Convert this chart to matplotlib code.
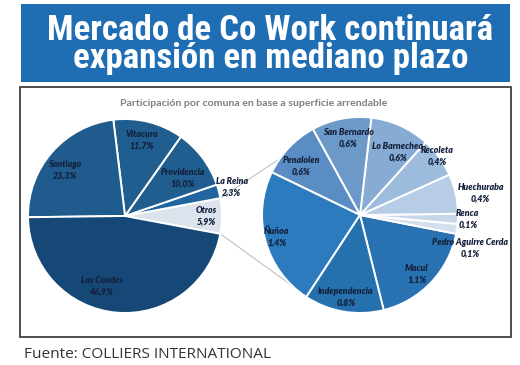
import numpy as np
import matplotlib
matplotlib.use("Agg")
import matplotlib.pyplot as plt
from matplotlib.patches import Rectangle

# ---------------- data ----------------
title_lines = ["Mercado de Co Work continuará", "expansión en mediano plazo"]
subtitle = "Participación por comuna en base a superficie arrendable"
source = "Fuente: COLLIERS INTERNATIONAL"

left_labels = ["Otros", "La Reina", "Providencia", "Vitacura", "Santiago", "Las Condes"]
left_values = [5.9, 2.3, 10.0, 11.7, 23.3, 46.9]

right_labels = ["Macul", "Pedro Aguirre Cerda", "Renca", "Huechuraba", "Recoleta",
                "Lo Barnechea", "San Bernardo", "Penalolen", "Ñuñoa", "Independencia"]
right_values = [1.1, 0.1, 0.1, 0.4, 0.4, 0.6, 0.6, 0.6, 1.4, 0.8]

# ---------------- styles ----------------
left_colors = ["#DCE3EC", "#2065A0", "#1F5E8F", "#1F5E8F", "#1F5C8D", "#164877"]
right_colors = ["#2872B1", "#D3E0EE", "#C6D7EA", "#B7CDE6", "#9EBDDE",
                "#88ABD4", "#6D99C9", "#5A8DC3", "#2B7BBE", "#2471AE"]
# label placement: radial fraction of radius, angle offset from wedge middle (deg)
left_lab_r = [0.84, 1.14, 0.71, 0.80, 0.78, 0.76]
left_lab_da = [0, 0.5, -3.7, 1.7, 3.7, -13.4]
right_lab_r = [0.83, 1.17, 1.10, 1.25, 0.99, 0.75, 0.79, 0.78, 0.88, 0.85]
right_lab_da = [-2.6, -8.6, 0.1, -2.2, 1.5, -6.7, -2.4, 3.8, -0.7, -0.1]

W, H = 520, 365
fig = plt.figure(figsize=(W / 100, H / 100), dpi=100)
ax = fig.add_axes([0, 0, 1, 1])

def py(y):  # pixel-from-top to data y
    return H - y

# banner
ax.add_patch(Rectangle((21, py(82)), 489, 78, facecolor="#1F6EB4", edgecolor="none", zorder=1))
# chart box
ax.add_patch(Rectangle((19.5, py(337)), 491, 250, facecolor="white", edgecolor="#404040",
                       linewidth=1.3, zorder=1))

lc = (125, py(216)); lr = 97
rc = (360, py(215)); rr = 98

lstart = -left_values[0] / sum(left_values) * 180
lw, _ = ax.pie(left_values, colors=left_colors, startangle=lstart, counterclock=True,
               center=lc, radius=lr, frame=True,
               wedgeprops=dict(edgecolor="white", linewidth=1.4))
rw, _ = ax.pie(right_values, colors=right_colors, startangle=-76, counterclock=True,
               center=rc, radius=rr, frame=True,
               wedgeprops=dict(edgecolor="white", linewidth=1.4))
for w in lw + rw:
    w.set_zorder(3)

def fmt(v):
    return f"{v:.1f}".replace(".", ",") + "%"

lab_font = dict(family=["Lato", "DejaVu Sans"], fontsize=6.3, fontweight="heavy",
                fontstyle="italic", color="#14213D", ha="center", va="center", zorder=5,
                linespacing=1.3)

def put_labels(wedges, labels, values, c, r, fr, da):
    for w, lab, v, f, d in zip(wedges, labels, values, fr, da):
        mid = np.deg2rad((w.theta1 + w.theta2) / 2 + d)
        ax.text(c[0] + f * r * np.cos(mid), c[1] + f * r * np.sin(mid),
                f"{lab}\n{fmt(v)}", **lab_font)

put_labels(lw, left_labels, left_values, lc, lr, left_lab_r, left_lab_da)
put_labels(rw, right_labels, right_values, rc, rr, right_lab_r, right_lab_da)

# connector lines from "Otros" wedge to the second pie
o = lw[0]
for a_left, a_right in [(o.theta2, 145), (o.theta1, -134)]:
    x0 = lc[0] + lr * np.cos(np.deg2rad(a_left)); y0 = lc[1] + lr * np.sin(np.deg2rad(a_left))
    x1 = rc[0] + rr * np.cos(np.deg2rad(a_right)); y1 = rc[1] + rr * np.sin(np.deg2rad(a_right))
    ax.plot([x0, x1], [y0, y1], color="#C0C0C0", linewidth=0.8, zorder=2)

# texts
title_font = dict(family=["Roboto Condensed", "Roboto", "DejaVu Sans"], fontstretch="condensed",
                  fontweight="bold", fontsize=20, color="white", ha="center",
                  zorder=5)
tmp = ax.text(270, py(40), title_lines[0], va="baseline", **title_font)
st = ax.text(254, py(103), subtitle, ha="center", va="center", color="#7F7F7F",
             family=["Lato", "DejaVu Sans"], fontweight="bold", fontsize=6.3, zorder=5)
ft = ax.text(24, py(358), source, ha="left", va="baseline", color="#333333",
             family=["Open Sans", "DejaVu Sans"], fontsize=10, zorder=5)

ax.set_xlim(0, W)
ax.set_ylim(0, H)
ax.set_aspect("auto")
ax.axis("off")

# fit text widths to the reference
fig.canvas.draw()
rend = fig.canvas.get_renderer()
def fit(t, width, maxsize=None):
    bb = t.get_window_extent(rend)
    s = t.get_fontsize() * width / bb.width
    if maxsize:
        s = min(s, maxsize)
    t.set_fontsize(s)
    return s
s = fit(tmp, 445, 26)
fit(st, 265)
fit(ft, 248)
fig.canvas.draw()
bb1 = tmp.get_window_extent(rend)
top, h1 = bb1.y1, bb1.height
tmp.remove()

# two-line title as one text, baseline step of ~27 px
title_font["fontsize"] = s
tt = ax.text(270.5, top, "\n".join(title_lines), va="top", multialignment="center",
             linespacing=1.0, **title_font)
fig.canvas.draw()
step1 = tt.get_window_extent(rend).height - h1
tt.set_linespacing(27.0 / step1)

fig.savefig("out.png", dpi=100)
